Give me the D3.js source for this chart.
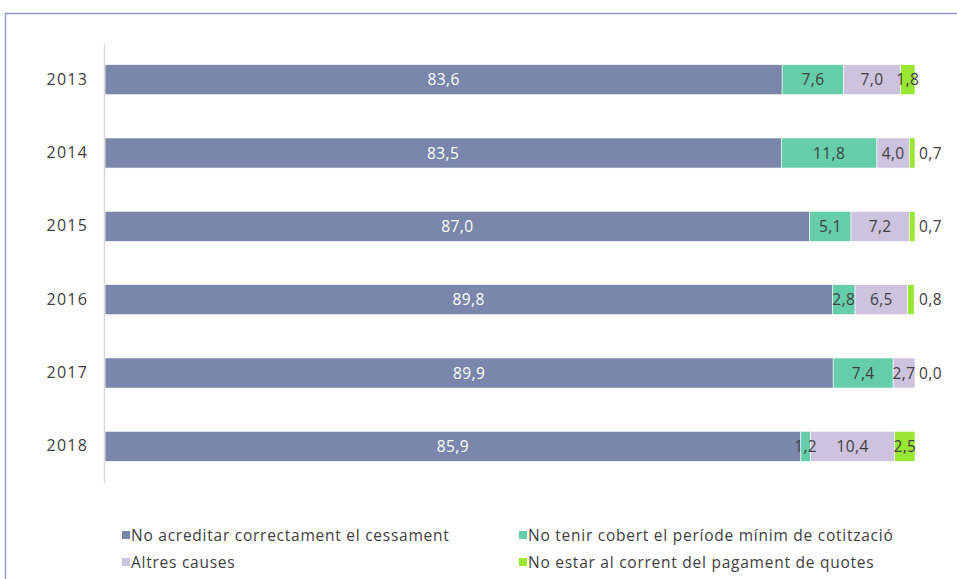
<!DOCTYPE html>
<html><head><meta charset="utf-8">
<script src="https://cdn.jsdelivr.net/npm/d3@7"></script>
<style>
body{margin:0;background:#fff;}
svg text{font-family:"Open Sans","Liberation Sans",sans-serif;}
</style></head>
<body>
<svg id="c" width="957" height="579"></svg>
<script>
const years = ["2013","2014","2015","2016","2017","2018"];
const seriesNames = ["No acreditar correctament el cessament","No tenir cobert el període mínim de cotització","Altres causes","No estar al corrent del pagament de quotes"];
const noAcreditar = [83.6,83.5,87.0,89.8,89.9,85.9];
const noCobert = [7.6,11.8,5.1,2.8,7.4,1.2];
const altres = [7.0,4.0,7.2,6.5,2.7,10.4];
const noCorrent = [1.8,0.7,0.7,0.8,0.0,2.5];
const colors = ["#7a86aa","#66cdaa","#cdc3df","#99e633"];

const series = [noAcreditar,noCobert,altres,noCorrent];
const svg = d3.select("#c");
// frame
svg.append("path").attr("d","M5.5,579 L5.5,13.5 L957,13.5").attr("fill","none").attr("stroke","#8f9bcf").attr("stroke-width",1.5);

const x = d3.scaleLinear().domain([0,100]).range([105,915]);
const y = d3.scaleBand().domain(years).range([43,483]).paddingInner(0.59).paddingOuter(0.295);

const fmt = v => v.toFixed(1).replace(".",",");

const barsG = svg.append("g"), labG = svg.append("g");
years.forEach((yr,i)=>{
  let acc=0;
  series.forEach((s,k)=>{
    const v=s[i];
    const x0=x(acc), x1=x(acc+v);
    if(v>0) barsG.append("rect").attr("x",x0).attr("y",y(yr)).attr("width",x1-x0).attr("height",y.bandwidth())
      .attr("fill",colors[k]).attr("stroke","#fff").attr("stroke-width",0.6);
    const cy=y(yr)+y.bandwidth()/2;
    const t=labG.append("text").attr("y",cy).attr("dy","0.36em").attr("font-size",15.5).attr("letter-spacing","0.4px")
      .attr("fill",k===0?"#fff":"#404040").text(fmt(v));
    if(k===3 && v<1){ t.attr("x",x(100)+4).attr("text-anchor","start"); }
    else t.attr("x",(x0+x1)/2).attr("text-anchor","middle");
    acc+=v;
  });
});

// axis
const ax = svg.append("g").attr("transform","translate(104,0)").call(d3.axisLeft(y).tickSize(0).tickPadding(16));
ax.select(".domain").attr("stroke","#d9d9d9").attr("stroke-width",1.5);
ax.selectAll("text").attr("font-size",16).attr("fill","#404040").attr("letter-spacing","1.2px").attr("font-family","Open Sans");

// legend
const lg=[[122,536],[519,536],[122,563],[519,563]];
seriesNames.forEach((n,k)=>{
  const g=svg.append("g").attr("transform",`translate(${lg[k][0]},${lg[k][1]})`);
  g.append("rect").attr("x",0).attr("y",-5).attr("width",8).attr("height",8).attr("fill",colors[k]);
  g.append("text").attr("x",9).attr("y",0).attr("dy","0.33em").attr("font-size",15.5).attr("letter-spacing","0.75px").attr("fill","#404040").text(n);
});
</script>
</body></html>
